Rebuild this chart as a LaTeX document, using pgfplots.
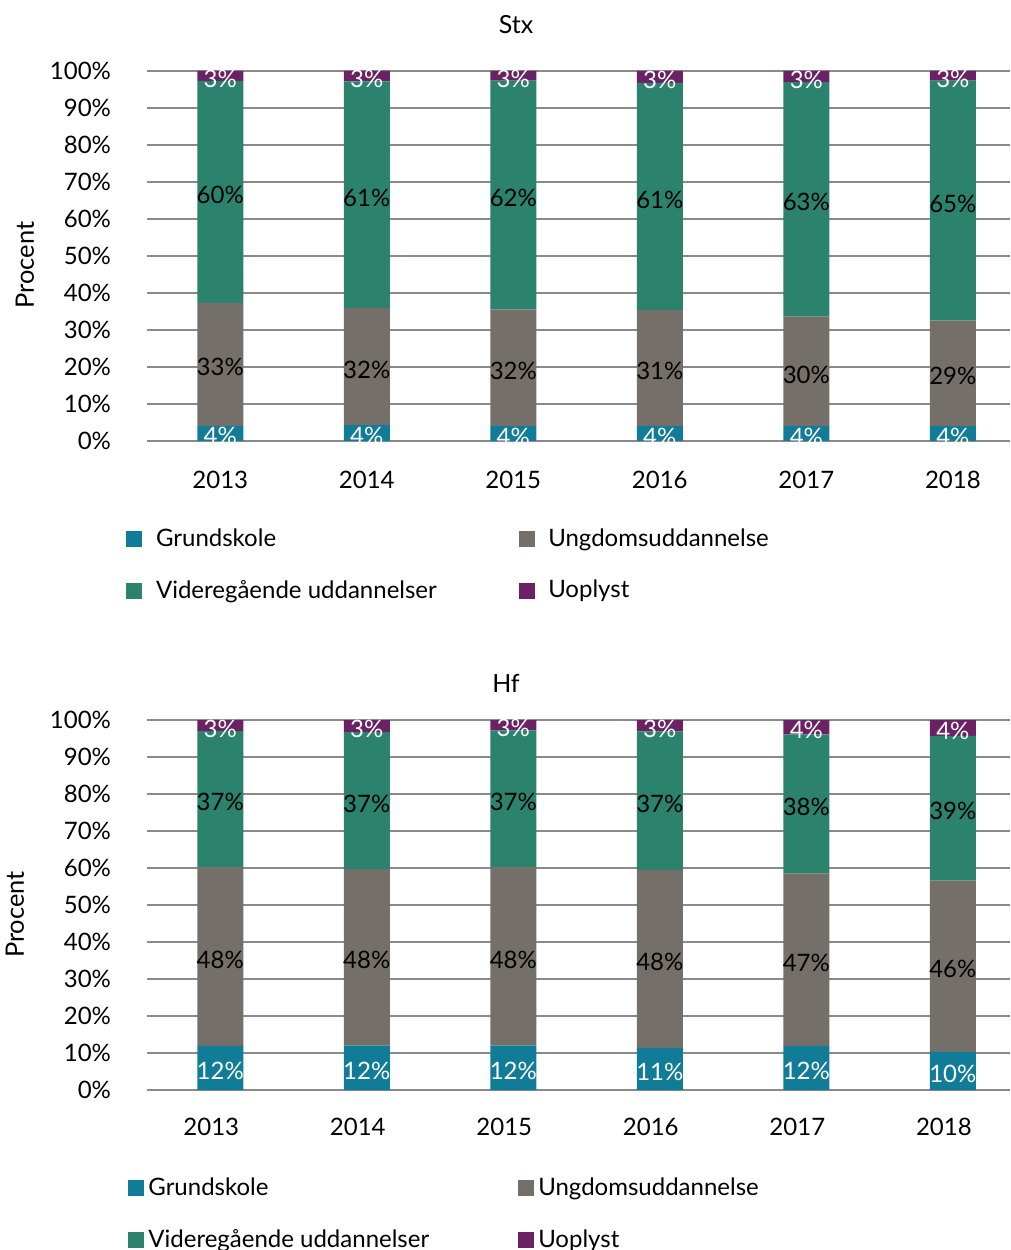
\documentclass[border=0pt]{standalone}
\usepackage{fontspec}
\setmainfont{Lato}
\usepackage{pgfplots}
\pgfplotsset{compat=1.18}
\usepackage{pgfplotstable}
\definecolor{cG}{HTML}{107C97}
\definecolor{cU}{HTML}{756F6A}
\definecolor{cV}{HTML}{2B836E}
\definecolor{cO}{HTML}{6B2265}
\definecolor{gridc}{HTML}{8A8A8A}

\pgfplotstableread{
x g u v o
0 4.1 33.2 60.0 2.7
1 4.3 31.6 61.3 2.8
2 4.0 31.6 61.8 2.6
3 4.0 31.4 61.4 3.2
4 4.0 29.6 63.4 3.0
5 4.0 28.6 64.8 2.6
}\stx
\pgfplotstableread{
x g u v o
0 11.9 48.3 36.8 3.0
1 12.0 47.7 37.0 3.3
2 12.0 48.2 37.0 2.8
3 11.4 48.1 37.4 3.1
4 11.9 46.6 37.6 3.9
5 10.3 46.3 39.1 4.3
}\hf

\pgfplotsset{
  base/.style={
    scale only axis, width=431.5pt, height=185pt,
    xmin=-0.5, xmax=5.39, ymin=0, ymax=100,
    anchor=south west,
    /pgf/number format/assume math mode=true,
  },
  main/.style={
    base,
    ybar stacked, bar width=23pt,
    axis line style={draw=none},
    major tick length=0pt,
    ymajorgrids, grid style={gridc, line width=0.6pt},
    xtick={0,...,5}, xticklabels={2013,2014,2015,2016,2017,2018},
    ytick={0,10,...,100},
    yticklabel={\pgfmathprintnumber{\tick}\%},
    tick label style={font=\fontsize{12}{14}\selectfont},
    yticklabel style={xshift=-14.5pt},
    xticklabel style={yshift=-11.5pt},
    title style={font=\fontsize{12.5}{14}\selectfont, anchor=center},
    ylabel={Procent},
    legend columns=2,
    legend cell align=left,
    legend image code/.code={\fill[##1] (0pt,-4pt) rectangle (8pt,4pt);},
  },
  lab/.style={
    base, hide axis,
    nodes near coords={\pgfmathprintnumber[fixed,precision=0]{\pgfplotspointmeta}\%},
    nodes near coords align=center,
    every node near coord/.append style={font=\fontsize{12}{14}\selectfont, yshift=-1.5pt},
  },
}

\begin{document}
\begin{tikzpicture}
\path[use as bounding box] (0,0) rectangle (505.5pt,625pt);

% ---------- Stx ----------
\begin{axis}[main, at={(73.5pt,404.5pt)},
  title={Stx}, title style={at={(axis description cs:0.4276,1)}, yshift=17pt},
  ylabel style={at={(axis description cs:-0.1414,0.476)}, rotate=0, anchor=center, font=\fontsize{12.7}{15}\selectfont},
  legend style={at={(axis description cs:-0.0243,-0.2242)}, anchor=north west,
    draw=none, fill=none, inner sep=0pt, row sep=11.5pt,
    font=\fontsize{12}{14}\selectfont,
    /tikz/every odd column/.append style={column sep=4.8pt},
    /tikz/every even column/.append style={column sep=38.9pt}},
]
\addplot[fill=cG, draw=none] table[x=x,y=g]{\stx};
\addlegendentry{Grundskole}
\addplot[fill=cU, draw=none] table[x=x,y=u]{\stx};
\addlegendentry{Ungdomsuddannelse}
\addplot[fill=cV, draw=none] table[x=x,y=v]{\stx};
\addlegendentry{Videregående uddannelser}
\addplot[fill=cO, draw=none] table[x=x,y=o]{\stx};
\addlegendentry{Uoplyst}
\end{axis}
\begin{axis}[lab, at={(73.5pt,404.5pt)}]
\addplot[draw=none, mark=none, point meta=explicit, nodes near coords style={white}]
  table[x=x, y expr=\thisrow{g}/2, meta=g]{\stx};
\addplot[draw=none, mark=none, point meta=explicit, nodes near coords style={black}]
  table[x=x, y expr=\thisrow{g}+\thisrow{u}/2, meta=u]{\stx};
\addplot[draw=none, mark=none, point meta=explicit, nodes near coords style={black}]
  table[x=x, y expr=\thisrow{g}+\thisrow{u}+\thisrow{v}/2, meta=v]{\stx};
\addplot[draw=none, mark=none, point meta=explicit, nodes near coords style={white}]
  table[x=x, y expr=\thisrow{g}+\thisrow{u}+\thisrow{v}+\thisrow{o}/2, meta=o]{\stx};
\end{axis}

% ---------- Hf ----------
\begin{axis}[main, at={(73.5pt,80pt)},
  title={Hf}, title style={at={(axis description cs:0.416,1)}, yshift=12.5pt},
  xticklabel style={xshift=-4.5pt, yshift=1pt},
  ylabel style={at={(axis description cs:-0.153,0.474)}, rotate=0, anchor=center, font=\fontsize{12.7}{15}\selectfont},
  legend style={at={(axis description cs:-0.022,-0.2249)}, anchor=north west,
    draw=none, fill=none, inner sep=0pt, row sep=11.5pt,
    font=\fontsize{12}{14}\selectfont,
    /tikz/every odd column/.append style={column sep=0pt},
    /tikz/every even column/.append style={column sep=42.5pt}},
]
\addplot[fill=cG, draw=none] table[x=x,y=g]{\hf};
\addlegendentry{Grundskole}
\addplot[fill=cU, draw=none] table[x=x,y=u]{\hf};
\addlegendentry{Ungdomsuddannelse}
\addplot[fill=cV, draw=none] table[x=x,y=v]{\hf};
\addlegendentry{Videregående uddannelser}
\addplot[fill=cO, draw=none] table[x=x,y=o]{\hf};
\addlegendentry{Uoplyst}
\end{axis}
\begin{axis}[lab, at={(73.5pt,80pt)}]
\addplot[draw=none, mark=none, point meta=explicit, nodes near coords style={white}]
  table[x=x, y expr=\thisrow{g}/2, meta=g]{\hf};
\addplot[draw=none, mark=none, point meta=explicit, nodes near coords style={black}]
  table[x=x, y expr=\thisrow{g}+\thisrow{u}/2, meta=u]{\hf};
\addplot[draw=none, mark=none, point meta=explicit, nodes near coords style={black}]
  table[x=x, y expr=\thisrow{g}+\thisrow{u}+\thisrow{v}/2, meta=v]{\hf};
\addplot[draw=none, mark=none, point meta=explicit, nodes near coords style={white}]
  table[x=x, y expr=\thisrow{g}+\thisrow{u}+\thisrow{v}+\thisrow{o}/2, meta=o]{\hf};
\end{axis}
\end{tikzpicture}
\end{document}
